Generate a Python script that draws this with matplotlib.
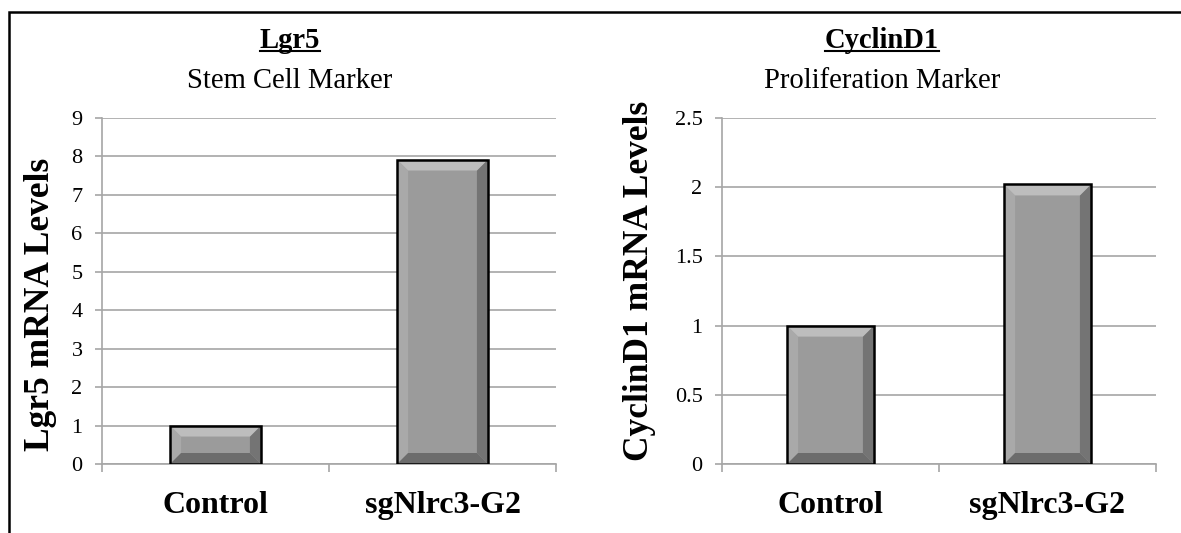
import matplotlib
matplotlib.use("Agg")
import matplotlib.pyplot as plt
import matplotlib.transforms as mtransforms
from matplotlib.patches import Polygon, Rectangle
from matplotlib.lines import Line2D

plt.rcParams['font.family'] = ['Liberation Serif', 'DejaVu Serif']

categories = ["Control", "sgNlrc3-G2"]
lgr5_values = [1.0, 7.92]
cyclin_values = [1.0, 2.02]
lgr5_ticks = [0, 1, 2, 3, 4, 5, 6, 7, 8, 9]
cyclin_ticks = [0, 0.5, 1, 1.5, 2, 2.5]
cyclin_ticklabels = ["0", "0.5", "1", "1.5", "2", "2.5"]

W, H = 1181, 533
fig = plt.figure(figsize=(W / 100, H / 100), dpi=100)

GRID = "#a6a6a6"
FACE = "#9b9b9b"
BEVEL = {"top": "#bdbdbd", "left": "#a9a9a9", "right": "#747474", "bottom": "#6c6c6c"}


def bevel_bars(ax, values, width=0.4, inset=11):
    x = range(len(values))
    bars = ax.bar(x, values, width=width, color=FACE, edgecolor="none", zorder=3)
    inv = ax.transData.inverted()
    for p in bars.patches:
        bx, by = p.get_x(), p.get_y()
        bw, bh = p.get_width(), p.get_height()
        (x0, y0) = ax.transData.transform((bx, by))
        (x1, y1) = ax.transData.transform((bx + bw, by + bh))
        d = min(inset, (y1 - y0) / 2.5)
        o = [(x0, y0), (x1, y0), (x1, y1), (x0, y1)]
        i = [(x0 + d, y0 + d), (x1 - d, y0 + d), (x1 - d, y1 - d), (x0 + d, y1 - d)]
        o = inv.transform(o)
        i = inv.transform(i)
        polys = {
            "top": [o[3], o[2], i[2], i[3]],
            "bottom": [o[0], o[1], i[1], i[0]],
            "left": [o[0], o[3], i[3], i[0]],
            "right": [o[1], o[2], i[2], i[1]],
        }
        for side in ("left", "right", "top", "bottom"):
            ax.add_patch(Polygon(polys[side], closed=True, facecolor=BEVEL[side],
                                 edgecolor="none", zorder=3.5))
    ax.bar(x, values, width=width, fill=False, edgecolor="black", linewidth=1.8, zorder=4)


def style_axes(ax, ymax, yticks, yticklabels=None):
    ax.set_xlim(-0.5, 1.5)
    ax.set_ylim(0, ymax)
    ax.set_yticks(yticks)
    if yticklabels is not None:
        ax.set_yticklabels(yticklabels)
    ax.yaxis.grid(True, color=GRID, linewidth=1.2)
    ax.set_axisbelow(True)
    for s in ("top", "right"):
        ax.spines[s].set_visible(False)
    for s in ("left", "bottom"):
        ax.spines[s].set_color(GRID)
        ax.spines[s].set_linewidth(1.2)
    ax.tick_params(axis="y", direction="out", length=5, width=1.2, color=GRID,
                   labelsize=16, pad=9)
    ax.set_xticks([-0.5, 0.5, 1.5])
    ax.set_xticklabels([])
    ax.tick_params(axis="x", which="major", direction="out", length=6, width=1.2, color=GRID)
    # category names sit on a common baseline below the axis
    trans = mtransforms.blended_transform_factory(ax.transData, fig.transFigure)
    for i, cat in enumerate(categories):
        ax.text(i, 1 - 513 / H, cat, transform=trans, ha="center", va="baseline",
                fontsize=23, fontweight="bold")


ax1 = fig.add_axes([102 / W, 1 - 464 / H, 454 / W, 346 / H])
style_axes(ax1, 9, lgr5_ticks)
bevel_bars(ax1, lgr5_values)

ax2 = fig.add_axes([722 / W, 1 - 464 / H, 434 / W, 346 / H])
style_axes(ax2, 2.5, cyclin_ticks, cyclin_ticklabels)
bevel_bars(ax2, cyclin_values)

# titles with underlined gene names
titles = [("Lgr5", "Stem Cell Marker", 290), ("CyclinD1", "Proliferation Marker", 882)]
renderer = fig.canvas.get_renderer()
for gene, sub, cx in titles:
    t = fig.text(cx / W, 1 - 48 / H, gene, ha="center", va="baseline",
                 fontsize=20.6, fontweight="bold")
    fig.text(cx / W, 1 - 88 / H, sub, ha="center", va="baseline", fontsize=20.6)
    bb = t.get_window_extent(renderer)
    uy = (1 - 51 / H)
    fig.add_artist(Line2D([bb.x0 / W, bb.x1 / W], [uy, uy], color="black",
                          linewidth=1.5, transform=fig.transFigure))

fig.text(41 / W, 1 - 304 / H, "Lgr5 mRNA Levels", rotation=90, ha="center", va="center",
         fontsize=25.5, fontweight="bold")
fig.text(640 / W, 1 - 281 / H, "CyclinD1 mRNA Levels", rotation=90, ha="center", va="center",
         fontsize=25.5, fontweight="bold")

# outer frame
fig.add_artist(Rectangle((9 / W, -0.2), 1.2, 1.2 - 12 / H, fill=False,
                         edgecolor="black", linewidth=1.8, transform=fig.transFigure))

fig.savefig("out.png", dpi=100)
